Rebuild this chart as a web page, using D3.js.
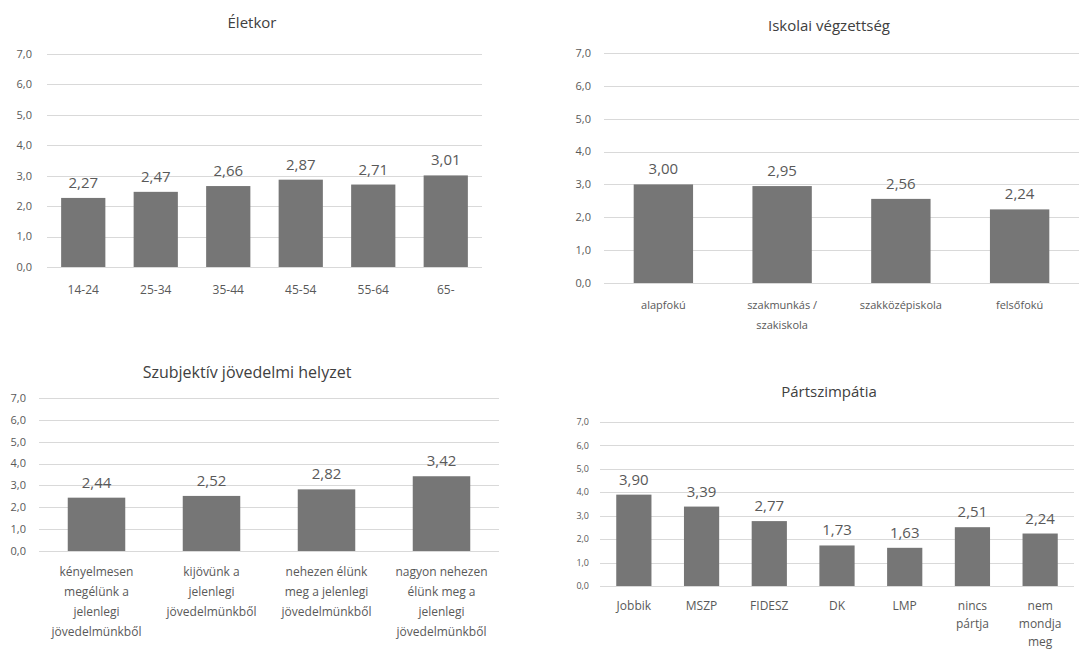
<!DOCTYPE html>
<html><head><meta charset="utf-8">
<script src="https://cdn.jsdelivr.net/npm/d3@7"></script>
<style>body{margin:0;background:#fff}svg{display:block}text{font-family:"Open Sans",sans-serif;fill:#595959}</style>
</head><body>
<svg id="c" width="1089" height="653"></svg>
<script>
// Data
const ageCategories = ["14-24","25-34","35-44","45-54","55-64","65-"];
const ageValues = [2.27,2.47,2.66,2.87,2.71,3.01];
const eduCategories = ["alapfokú","szakmunkás /\nszakiskola","szakközépiskola","felsőfokú"];
const eduValues = [3.00,2.95,2.56,2.24];
const incomeCategories = ["kényelmesen\nmegélünk a\njelenlegi\njövedelmünkből","kijövünk a\njelenlegi\njövedelmünkből","nehezen élünk\nmeg a jelenlegi\njövedelmünkből","nagyon nehezen\nélünk meg a\njelenlegi\njövedelmünkből"];
const incomeValues = [2.44,2.52,2.82,3.42];
const partyCategories = ["Jobbik","MSZP","FIDESZ","DK","LMP","nincs\npártja","nem\nmondja\nmeg"];
const partyValues = [3.90,3.39,2.77,1.73,1.63,2.51,2.24];
const yTicks = [0,1,2,3,4,5,6,7];
const titles = ["Életkor","Iskolai végzettség","Szubjektív jövedelmi helyzet","Pártszimpátia"];

const svg = d3.select("#c");
const fmt = v => d3.format(".2f")(v).replace(".", ",");
const fmtTick = v => d3.format(".1f")(v).replace(".", ",");

function panel(o){
  const g = svg.append("g");
  const x = d3.scaleBand().domain(o.cats).range([o.x0,o.x1]).paddingInner(o.pad).paddingOuter(o.pad/2);
  const y = d3.scaleLinear().domain([0,7]).range([o.y0,o.y1]);
  g.selectAll("line.grid").data(yTicks).join("line")
    .attr("x1",o.x0).attr("x2",o.x1)
    .attr("y1",d=>Math.round(y(d))+0.5).attr("y2",d=>Math.round(y(d))+0.5)
    .attr("stroke","#d9d9d9").attr("stroke-width",1);
  g.selectAll("text.yt").data(yTicks).join("text")
    .attr("x",o.ylx).attr("y",d=>y(d)).attr("dy","0.35em")
    .attr("text-anchor","end").style("font-size",o.yfs+"px").text(fmtTick);
  g.selectAll("rect").data(o.vals).join("rect")
    .attr("x",(d,i)=>x(o.cats[i])).attr("width",x.bandwidth())
    .attr("y",d=>y(d)).attr("height",d=>y(0)-y(d)).attr("fill","#767676");
  g.selectAll("text.v").data(o.vals).join("text")
    .attr("x",(d,i)=>x(o.cats[i])+x.bandwidth()/2).attr("y",d=>y(d)-o.vgap)
    .attr("text-anchor","middle").style("font-size",o.vfs+"px").text(fmt);
  o.cats.forEach(c=>{
    const t = g.append("text").attr("text-anchor","middle").style("font-size",o.xfs+"px")
      .attr("x",x(c)+x.bandwidth()/2).attr("y",o.y0+o.xoff);
    c.split("\n").forEach((line,i)=>{
      t.append("tspan").attr("x",x(c)+x.bandwidth()/2).attr("dy",i?o.xlh:0).text(line);
    });
  });
  g.append("text").attr("x",o.tx).attr("y",o.ty).attr("text-anchor","middle")
    .style("font-size",o.tfs+"px").style("fill","#404040").text(o.title);
}

panel({cats:ageCategories,vals:ageValues,title:titles[0],x0:47,x1:482,y0:267,y1:54,pad:0.39,
  ylx:32,yfs:11,vfs:15,vgap:10,xfs:12,xoff:27,xlh:20,tx:252,ty:28,tfs:15});
panel({cats:eduCategories,vals:eduValues,title:titles[1],x0:604,x1:1079,y0:283,y1:53,pad:0.5,
  ylx:591,yfs:11,vfs:15,vgap:10,xfs:11,xoff:26,xlh:20,tx:829,ty:31,tfs:15});
panel({cats:incomeCategories,vals:incomeValues,title:titles[2],x0:39,x1:499,y0:551,y1:398,pad:0.5,
  ylx:26,yfs:11,vfs:15,vgap:10,xfs:12,xoff:25,xlh:20,tx:247,ty:378,tfs:16});
panel({cats:partyCategories,vals:partyValues,title:titles[3],x0:600,x1:1074,y0:586,y1:422,pad:0.48,
  ylx:589,yfs:9,vfs:15,vgap:10,xfs:12,xoff:24,xlh:18,tx:829,ty:397,tfs:15});
</script>
</body></html>
